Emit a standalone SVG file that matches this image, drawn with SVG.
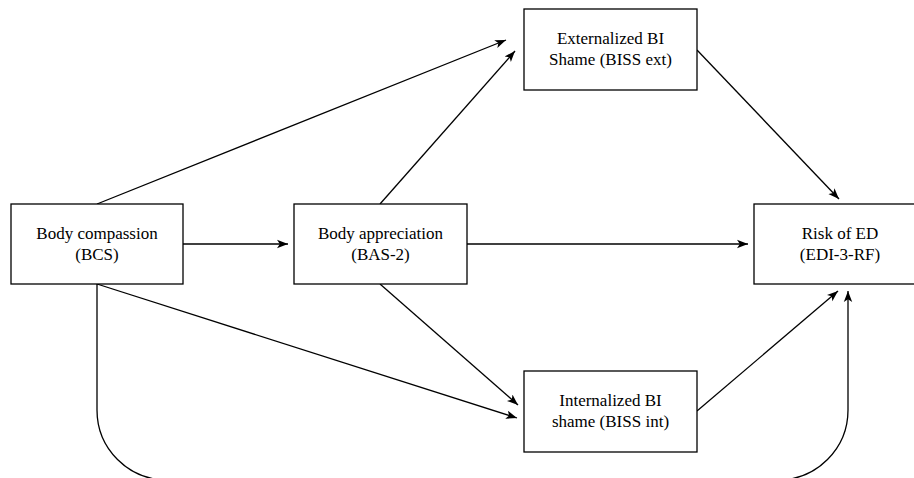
<svg xmlns="http://www.w3.org/2000/svg" width="914" height="478" viewBox="0 0 914 478">
<style>
.box{fill:#fff;stroke:#000;stroke-width:1.3}
.lbl{font-size:17px;fill:#000;text-anchor:middle}
.edge{fill:none;stroke:#000;stroke-width:1.3}
</style>
<defs>
<marker id="arr" markerUnits="userSpaceOnUse" markerWidth="12" markerHeight="10" viewBox="0 0 12 10" refX="11" refY="5" orient="auto">
<path d="M0,0.8 L11,5 L0,9.2 L2.8,5 z" fill="#000"/>
</marker>
</defs>
<rect width="914" height="478" fill="#fff"/>
<g id="connectors">
<path class="edge" d="M183,244 L288,244" marker-end="url(#arr)"/>
<path class="edge" d="M467,244 L748,244" marker-end="url(#arr)"/>
<path class="edge" d="M97,204 L506,40" marker-end="url(#arr)"/>
<path class="edge" d="M380,204 L515,51" marker-end="url(#arr)"/>
<path class="edge" d="M697,50 L839,199" marker-end="url(#arr)"/>
<path class="edge" d="M97,284 L517,418" marker-end="url(#arr)"/>
<path class="edge" d="M380,284 L518,405" marker-end="url(#arr)"/>
<path class="edge" d="M697,411 L838,291" marker-end="url(#arr)"/>
<path class="edge" d="M97,284 V410 A70,70 0 0 0 167,480 H778 A70,70 0 0 0 848,410 V291" marker-end="url(#arr)"/>
</g>
<g font-family="'Liberation Serif', 'Times New Roman', 'DejaVu Serif', serif">
<g id="bcs">
<rect class="box" x="11" y="204" width="172" height="80"/>
<text class="lbl" x="97" y="239">Body compassion</text>
<text class="lbl" x="97" y="260">(BCS)</text>
</g>
<g id="bas">
<rect class="box" x="294" y="204" width="173" height="80"/>
<text class="lbl" x="380.5" y="239">Body appreciation</text>
<text class="lbl" x="380.5" y="260">(BAS-2)</text>
</g>
<g id="ext">
<rect class="box" x="524" y="9" width="173" height="81"/>
<text class="lbl" x="610.5" y="44">Externalized BI</text>
<text class="lbl" x="610.5" y="65">Shame (BISS ext)</text>
</g>
<g id="int">
<rect class="box" x="524" y="371" width="173" height="81"/>
<text class="lbl" x="610.5" y="406">Internalized BI</text>
<text class="lbl" x="610.5" y="427">shame (BISS int)</text>
</g>
<g id="risk">
<rect class="box" x="754" y="204" width="172" height="80"/>
<text class="lbl" x="840" y="239">Risk of ED</text>
<text class="lbl" x="840" y="260">(EDI-3-RF)</text>
</g>
</g>
</svg>
